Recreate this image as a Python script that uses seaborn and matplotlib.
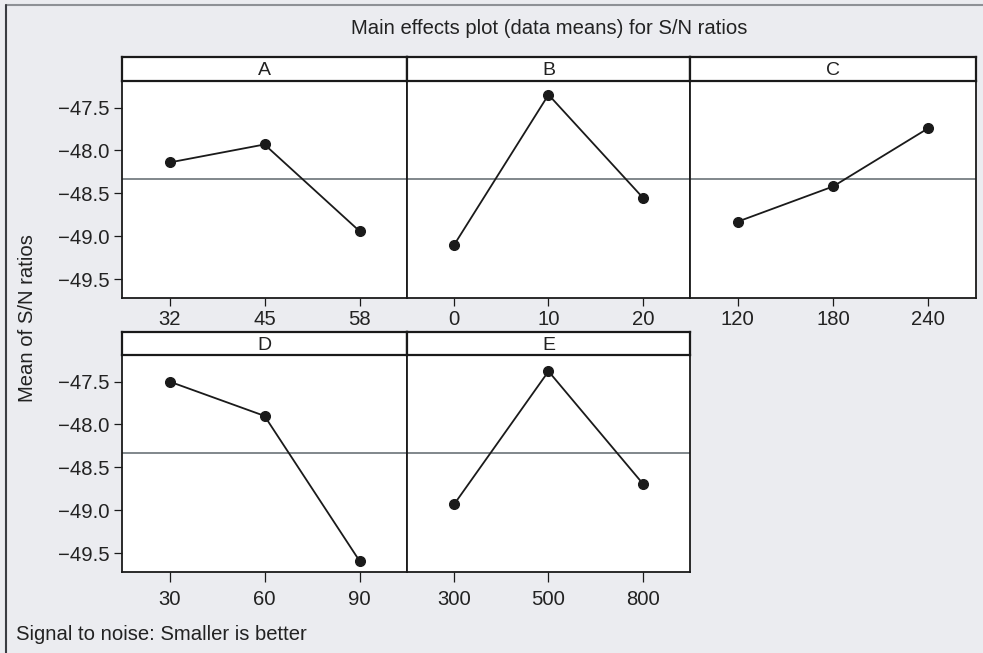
import matplotlib
matplotlib.use("Agg")
import matplotlib.pyplot as plt
from matplotlib.lines import Line2D
import numpy as np
import pandas as pd
import seaborn as sns

# Factor names and their levels
factors = ["A", "B", "C", "D", "E"]
levels_A = ["32", "45", "58"]
levels_B = ["0", "10", "20"]
levels_C = ["120", "180", "240"]
levels_D = ["30", "60", "90"]
levels_E = ["300", "500", "800"]

# Mean S/N ratio at each level
sn_A = [-48.14, -47.93, -48.94]
sn_B = [-49.10, -47.35, -48.55]
sn_C = [-48.83, -48.42, -47.74]
sn_D = [-47.50, -47.90, -49.59]
sn_E = [-48.93, -47.38, -48.69]

yticks = [-47.5, -48.0, -48.5, -49.0, -49.5]

levels = {"A": levels_A, "B": levels_B, "C": levels_C, "D": levels_D, "E": levels_E}
values = {"A": sn_A, "B": sn_B, "C": sn_C, "D": sn_D, "E": sn_E}

rows = []
for f in factors:
    for lv, v in zip(levels[f], values[f]):
        rows.append({"factor": f, "level": lv, "sn": v})
df = pd.DataFrame(rows)
grand_mean = df["sn"].mean()

sns.set_theme(style="white")
plt.rcParams["font.family"] = ["Liberation Sans", "DejaVu Sans"]
plt.rcParams["text.color"] = "#222222"
plt.rcParams["axes.edgecolor"] = "#1a1a1a"

W, H = 983, 653
BG = "#ebecf0"
FS = 14.6
fig = plt.figure(figsize=(W / 100, H / 100), dpi=100, facecolor=BG)


def px_axes(x0, y0, x1, y1):
    """Axes from pixel box (top-left origin)."""
    return fig.add_axes([x0 / W, 1 - y1 / H, (x1 - x0) / W, (y1 - y0) / H])


cols = [(122, 407), (407, 690), (690, 976)]
row_boxes = [(57, 81, 298), (332, 355, 572)]
# x tick length / label pad per row
row_ticks = [(6.0, 2.5), (7.5, 5.5)]
layout = {"A": (0, 0), "B": (0, 1), "C": (0, 2), "D": (1, 0), "E": (1, 1)}

ylim = (-49.72, -47.19)
ink = "#1a1a1a"

for f in factors:
    r, c = layout[f]
    x0, x1 = cols[c]
    s_top, p_top, p_bot = row_boxes[r]
    tlen, tpad = row_ticks[r]

    ax = px_axes(x0, p_top, x1, p_bot)
    ax.set_facecolor("white")
    sub = df[df["factor"] == f]
    ax.axhline(grand_mean, color="#6b7378", lw=1.2, zorder=1)
    sns.pointplot(data=sub, x="level", y="sn", order=levels[f], color=ink,
                  errorbar=None, markers="o", linestyles="-",
                  markersize=7, linewidth=1.3, ax=ax, zorder=3)
    ax.set_xlim(-0.5, 2.5)
    ax.set_ylim(*ylim)
    ax.set_xlabel("")
    ax.set_ylabel("")
    for sp in ax.spines.values():
        sp.set_visible(True)
        sp.set_linewidth(1.3)
        sp.set_color(ink)
    ax.tick_params(axis="x", direction="out", length=tlen, width=0.9,
                   colors=ink, labelcolor="#222222", labelsize=FS, pad=tpad,
                   bottom=True)
    ax.set_yticks(yticks)
    if c == 0:
        ax.tick_params(axis="y", direction="out", length=6, width=0.9,
                       colors=ink, labelcolor="#222222", labelsize=FS, pad=3,
                       left=True)
        ax.set_yticklabels([f"{t:.1f}".replace("-", "\u2212") for t in yticks])
    else:
        ax.tick_params(axis="y", left=False, labelleft=False)

    # strip header
    sax = px_axes(x0, s_top, x1, p_top)
    sax.set_facecolor("white")
    sax.set_xticks([])
    sax.set_yticks([])
    for sp in sax.spines.values():
        sp.set_visible(True)
        sp.set_linewidth(1.6)
        sp.set_color(ink)
    sax.text(0.5, 0.42, f, ha="center", va="center", fontsize=14,
             transform=sax.transAxes)

fig.text(549 / W, 1 - 28 / H, "Main effects plot (data means) for S/N ratios",
         ha="center", va="center", fontsize=FS)
fig.text(28 / W, 1 - 318 / H, "Mean of S/N ratios", rotation=90,
         ha="center", va="center", fontsize=FS)
fig.text(16 / W, 1 - 635 / H, "Signal to noise: Smaller is better",
         ha="left", va="center", fontsize=FS)

# outer frame: top and left edges
fig.add_artist(Line2D([6 / W, 1.0], [1 - 5 / H, 1 - 5 / H], color="#8e9196",
                      lw=1.5, transform=fig.transFigure))
fig.add_artist(Line2D([6 / W, 6 / W], [0.0, 1 - 5 / H], color="#3a3d42",
                      lw=1.5, transform=fig.transFigure))

fig.savefig("out.png", dpi=100, facecolor=BG)
